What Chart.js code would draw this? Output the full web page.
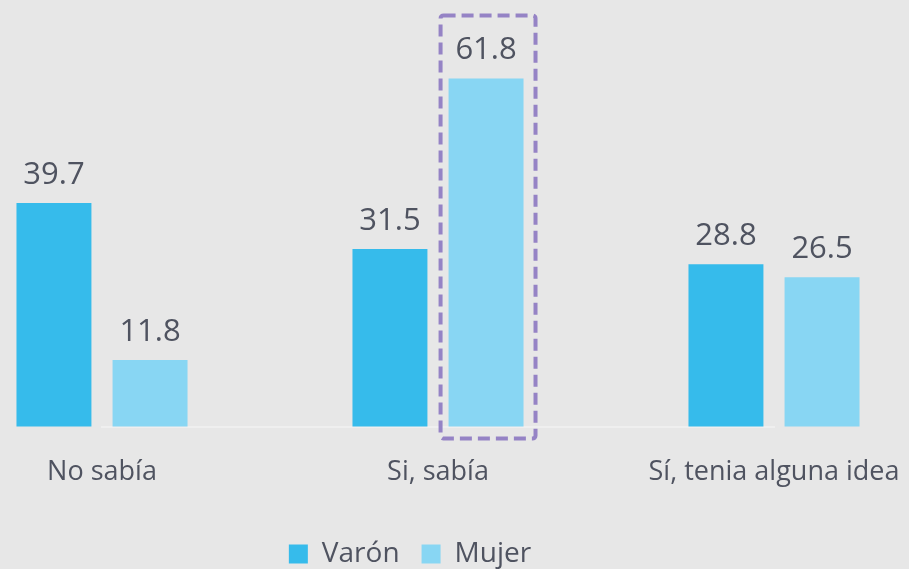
<!DOCTYPE html>
<html>
<head>
<meta charset="utf-8">
<script src="https://cdn.jsdelivr.net/npm/chart.js@4"></script>
<style>
  html, body { margin: 0; padding: 0; background: #e7e7e7; }
  #wrap { width: 909px; height: 569px; }
</style>
</head>
<body>
<div id="wrap"><canvas id="chart" width="909" height="569"></canvas></div>
<script>
const categories = ['No sabía', 'Si, sabía', 'Sí, tenia alguna idea'];
const varon = [39.7, 31.5, 28.8];
const mujer = [11.8, 61.8, 26.5];

const TEXT = '#4f5360';

// value labels above each bar
const valueLabels = {
  id: 'valueLabels',
  afterDatasetsDraw(chart) {
    const ctx = chart.ctx;
    ctx.save();
    ctx.font = '31px "Open Sans"';
    ctx.fillStyle = TEXT;
    ctx.textAlign = 'center';
    ctx.textBaseline = 'alphabetic';
    chart.data.datasets.forEach((ds, i) => {
      chart.getDatasetMeta(i).data.forEach((bar, j) => {
        ctx.fillText(ds.data[j].toFixed(1), bar.x, bar.y - 19);
      });
    });
    ctx.restore();
  },
};

// dashed highlight round Mujer / "Si, sabía"
const highlight = {
  id: 'highlight',
  afterDatasetsDraw(chart) {
    const bar = chart.getDatasetMeta(1).data[1];
    const half = bar.width / 2;
    const x0 = bar.x - half - 8;
    const x1 = bar.x + half + 12;
    const y0 = bar.y - 63;
    const y1 = bar.base + 12;
    const ctx = chart.ctx;
    ctx.save();
    ctx.strokeStyle = '#9583c5';
    ctx.lineWidth = 4;
    ctx.setLineDash([12, 6]);
    ctx.beginPath();
    ctx.roundRect(x0, y0, x1 - x0, y1 - y0, 3);
    ctx.stroke();
    ctx.restore();
  },
};

// invisible side axes, used only to fix the plot width
const spacer = (w) => ({
  display: true,
  grid: { display: false },
  border: { display: false },
  ticks: { display: false },
  afterFit: (s) => { s.width = w; },
});

new Chart(document.getElementById('chart'), {
  type: 'bar',
  data: {
    labels: categories,
    datasets: [
      {
        label: 'Varón',
        data: varon,
        backgroundColor: '#36bbeb',
        clip: false,
      },
      {
        label: 'Mujer',
        data: mujer,
        backgroundColor: '#88d6f3',
        clip: false,
      },
    ],
  },
  plugins: [valueLabels, highlight],
  options: {
    responsive: false,
    animation: false,
    barPercentage: 0.78,
    categoryPercentage: 0.572,
    layout: {
      padding: { left: 0, right: 89, top: 35, bottom: -9 },
    },
    scales: {
      x: {
        offset: false,
        grid: { display: false },
        border: { color: '#efefef', width: 2 },
        ticks: {
          color: TEXT,
          padding: 22,
          font: { size: 27, family: 'Open Sans' },
          maxRotation: 0,
        },
        afterFit: (s) => {
          s.paddingLeft = 0;
          s.paddingRight = 0;
          s.height += 7;
        },
      },
      y: {
        ...spacer(102),
        min: 0,
        max: 69.5,
      },
      y2: {
        ...spacer(46),
        type: 'linear',
        position: 'right',
      },
    },
    plugins: {
      legend: {
        position: 'bottom',
        labels: {
          color: TEXT,
          boxWidth: 19,
          boxHeight: 19,
          padding: 22,
          font: { size: 28, family: 'Open Sans' },
        },
      },
      tooltip: { enabled: false },
    },
  },
});
</script>
</body>
</html>
